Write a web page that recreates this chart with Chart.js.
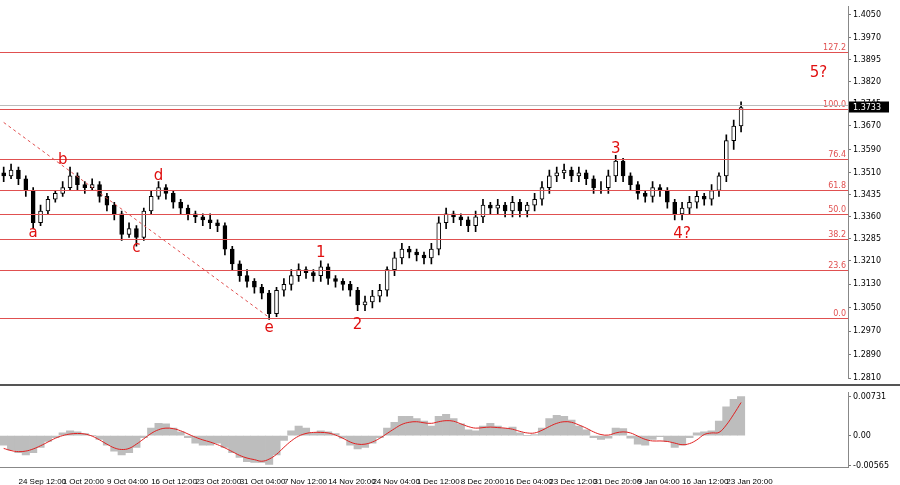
<!DOCTYPE html>
<html><head><meta charset="utf-8">
<script src="https://cdn.jsdelivr.net/npm/chart.js@4/dist/chart.umd.min.js"></script>
<style>
body{margin:0;background:#fff;width:900px;height:485px;overflow:hidden;position:relative;font-family:"DejaVu Sans",sans-serif}
canvas{position:absolute;left:0}
#sep{position:absolute;left:0;top:384px;width:900px;height:2px;background:#555}
</style></head><body>
<canvas id="main" width="900" height="385" style="top:0"></canvas>
<div id="sep"></div>
<canvas id="osc" width="900" height="99" style="top:386px"></canvas>
<script>
const opens=[1.351,1.350,1.352,1.349,1.345,1.334,1.338,1.342,1.344,1.346,1.350,1.347,1.346,1.347,1.343,1.340,1.337,1.330,1.332,1.329,1.338,1.343,1.346,1.344,1.341,1.339,1.337,1.336,1.335,1.334,1.333,1.325,1.320,1.316,1.314,1.312,1.310,1.303,1.311,1.313,1.316,1.318,1.317,1.316,1.319,1.315,1.314,1.313,1.311,1.306,1.307,1.309,1.311,1.318,1.322,1.325,1.324,1.323,1.322,1.325,1.334,1.337,1.336,1.335,1.333,1.336,1.340,1.339,1.340,1.338,1.341,1.338,1.340,1.342,1.346,1.350,1.351,1.352,1.350,1.351,1.349,1.346,1.346,1.350,1.355,1.350,1.347,1.344,1.343,1.346,1.345,1.341,1.337,1.339,1.341,1.343,1.342,1.345,1.350,1.362,1.367];
const closes=[1.350,1.352,1.349,1.345,1.334,1.338,1.342,1.344,1.346,1.350,1.347,1.346,1.347,1.343,1.340,1.337,1.330,1.332,1.329,1.338,1.343,1.346,1.344,1.341,1.339,1.337,1.336,1.335,1.334,1.333,1.325,1.320,1.316,1.314,1.312,1.310,1.303,1.311,1.313,1.316,1.318,1.317,1.316,1.319,1.315,1.314,1.313,1.311,1.306,1.307,1.309,1.311,1.318,1.322,1.325,1.324,1.323,1.322,1.325,1.334,1.337,1.336,1.335,1.333,1.336,1.340,1.339,1.340,1.338,1.341,1.338,1.340,1.342,1.346,1.350,1.351,1.352,1.350,1.351,1.349,1.346,1.346,1.350,1.355,1.350,1.347,1.344,1.343,1.346,1.345,1.341,1.337,1.339,1.341,1.343,1.342,1.345,1.350,1.362,1.367,1.3733];
const highs=[1.353,1.354,1.353,1.350,1.346,1.340,1.343,1.345,1.348,1.353,1.351,1.348,1.349,1.348,1.344,1.341,1.338,1.334,1.333,1.339,1.345,1.348,1.347,1.345,1.342,1.340,1.338,1.337,1.337,1.335,1.334,1.326,1.321,1.318,1.315,1.313,1.311,1.312,1.315,1.318,1.320,1.319,1.318,1.321,1.320,1.316,1.315,1.314,1.312,1.309,1.311,1.313,1.319,1.324,1.327,1.326,1.325,1.324,1.327,1.336,1.339,1.338,1.337,1.336,1.338,1.342,1.341,1.342,1.341,1.343,1.342,1.341,1.344,1.348,1.352,1.353,1.354,1.353,1.353,1.352,1.350,1.348,1.352,1.357,1.356,1.351,1.348,1.345,1.348,1.347,1.346,1.342,1.341,1.343,1.345,1.344,1.347,1.351,1.364,1.369,1.3752];
const lows=[1.348,1.349,1.347,1.343,1.332,1.333,1.337,1.341,1.343,1.345,1.345,1.344,1.345,1.341,1.338,1.335,1.328,1.329,1.326,1.328,1.337,1.342,1.342,1.339,1.337,1.335,1.334,1.333,1.332,1.331,1.323,1.318,1.314,1.312,1.310,1.308,1.301,1.302,1.309,1.311,1.314,1.315,1.314,1.314,1.313,1.312,1.311,1.309,1.304,1.304,1.305,1.307,1.309,1.316,1.320,1.322,1.321,1.320,1.320,1.323,1.332,1.334,1.333,1.331,1.331,1.334,1.337,1.337,1.336,1.336,1.336,1.336,1.338,1.340,1.344,1.348,1.349,1.348,1.348,1.347,1.344,1.344,1.344,1.348,1.348,1.345,1.342,1.341,1.341,1.343,1.339,1.335,1.335,1.337,1.339,1.340,1.340,1.343,1.348,1.359,1.365];
const oscHist=[-18,-27,-32,-36,-32,-22,-11,-4,5,9,7,4,0,-7,-18,-29,-36,-32,-22,-4,14,23,22,14,7,-4,-14,-18,-18,-14,-22,-32,-41,-49,-50,-50,-54,-36,-9,9,18,14,5,9,7,4,-5,-18,-25,-22,-14,-4,14,25,36,36,32,27,18,36,40,32,22,11,9,18,23,18,13,16,5,0,2,14,32,38,36,29,18,11,-4,-7,-5,14,13,-5,-16,-18,-7,-2,-11,-22,-18,-4,5,7,9,27,54,68,73];
const oscSignal=[-10,-18,-24,-28,-30,-29,-25,-19,-12,-5,0,3,4,3,-1,-8,-16,-23,-26,-24,-16,-6,4,11,14,13,9,3,-3,-8,-12,-17,-23,-30,-37,-42,-45,-48,-44,-35,-22,-10,-1,4,6,6,5,1,-5,-12,-16,-16,-12,-5,4,13,21,25,26,24,23,26,28,27,22,17,14,15,16,15,14,12,8,5,5,10,17,23,26,25,20,14,7,2,1,5,7,5,-1,-7,-10,-10,-11,-14,-17,-15,-8,2,5,6,20,40,62];
const priceTicks=[1.4050,1.3970,1.3895,1.3820,1.3745,1.3670,1.3590,1.3510,1.3435,1.3360,1.3285,1.3210,1.3130,1.3050,1.2970,1.2890,1.2810];
const fibLevels=[1.3922,1.3728,1.3557,1.3451,1.3369,1.3284,1.3178,1.3014];
const fibNames=["127.2","100.0","76.4","61.8","50.0","38.2","23.6","0.0"];
const waveLabels=[["a",4,1.3305],["b",8,1.3555],["c",18,1.3255],["d",21,1.3500],["e",36,1.2980],["1",43,1.3235],["2",48,1.2990],["3",83,1.3590],["4?",92,1.3300],["5?",110.5,1.3850]];
const timeLabels={2:"24 Sep 12:00",8:"1 Oct 20:00",14:"9 Oct 04:00",20:"16 Oct 12:00",26:"23 Oct 20:00",32:"31 Oct 04:00",38:"7 Nov 12:00",44:"14 Nov 20:00",50:"24 Nov 04:00",56:"1 Dec 12:00",62:"8 Dec 20:00",68:"16 Dec 04:00",74:"23 Dec 12:00",80:"31 Dec 20:00",86:"9 Jan 04:00",92:"16 Jan 12:00",98:"23 Jan 20:00"};
const lastPrice=1.3733;
const nSlots=115;

const cats=[];for(let i=0;i<nSlots;i++)cats.push(timeLabels[i]||"");
const F="DejaVu Sans";
const FX="Liberation Sans";
const bodies=opens.map((o,i)=>[o,closes[i]]);
const wicks=highs.map((h,i)=>[lows[i],h]);
const bodyColors=opens.map((o,i)=>closes[i]>=o?"#fff":"#000");
const diag=cats.map(()=>null);diag[0]=1.3682;diag[36]=1.3017;
const sig=oscSignal.slice(Math.max(0,oscSignal.length-oscHist.length));

const mainOverlay={id:"ov",afterDatasetsDraw(c){
 const ctx=c.ctx,y=c.scales.y,x=c.scales.x,a=c.chartArea;
 ctx.save();
 ctx.strokeStyle="#e05050";ctx.lineWidth=1;
 fibLevels.forEach((v,i)=>{const py=Math.round(y.getPixelForValue(v))+0.5;
  ctx.beginPath();ctx.moveTo(0,py);ctx.lineTo(a.right,py);ctx.stroke();
  ctx.fillStyle="#e05050";ctx.font="8px "+F;ctx.textAlign="right";ctx.textBaseline="bottom";
  ctx.fillText(fibNames[i],a.right-2,py-1);});
 const lp=Math.round(y.getPixelForValue(lastPrice))+0.5;
 ctx.strokeStyle="#bbb";ctx.beginPath();ctx.moveTo(0,lp-2);ctx.lineTo(a.right,lp-2);ctx.stroke();
 ctx.fillStyle="#000";ctx.fillRect(a.right+1,lp-6,40,11);
 ctx.fillStyle="#fff";ctx.font="8px "+F;ctx.textAlign="left";ctx.textBaseline="middle";ctx.fillText("1.3733",a.right+5,lp);
 ctx.fillStyle="#e01010";ctx.font="15px "+F;ctx.textAlign="center";ctx.textBaseline="middle";
 waveLabels.forEach(w=>{ctx.fillText(w[0],x.getPixelForValue(0)+(x.getPixelForValue(1)-x.getPixelForValue(0))*w[1],y.getPixelForValue(w[2]));});
 ctx.restore();}};

new Chart(document.getElementById("main"),{
 type:"bar",
 data:{labels:cats,datasets:[
  {data:wicks,backgroundColor:"#000",barThickness:1,grouped:false,order:2},
  {data:bodies,backgroundColor:bodyColors,borderColor:"#000",borderWidth:1,borderSkipped:false,barThickness:4,grouped:false,order:1},
  {type:"line",data:diag,spanGaps:true,borderColor:"#e05050",borderWidth:1,borderDash:[3,3],pointRadius:0,order:0}
 ]},
 options:{responsive:false,animation:false,devicePixelRatio:1,
  layout:{padding:{left:0,right:0,top:0,bottom:0}},
  plugins:{legend:{display:false},tooltip:{enabled:false}},
  scales:{
   x:{display:false,offset:true},
   y:{position:"right",min:1.2810,max:1.40763,
    afterBuildTicks(s){s.ticks=priceTicks.map(v=>({value:v}));},
    afterFit(s){s.width=52;},
    grid:{drawOnChartArea:false,tickLength:3,color:"#777"},
    border:{color:"#888"},
    ticks:{color:"#000",font:{family:F,size:8},padding:2,callback:v=>v.toFixed(4)}}
  }},
 plugins:[mainOverlay]});

const zeroLine={id:"z",beforeDatasetsDraw(c){const ctx=c.ctx,a=c.chartArea;ctx.save();ctx.strokeStyle="#888";ctx.lineWidth=1;
 ctx.beginPath();ctx.moveTo(0,a.bottom+0.5);ctx.lineTo(a.right,a.bottom+0.5);ctx.stroke();ctx.restore();}};
new Chart(document.getElementById("osc"),{
 type:"bar",
 data:{labels:cats,datasets:[
  {type:"line",data:sig,borderColor:"#e02020",borderWidth:1,pointRadius:0,tension:0.4,order:0},
  {data:oscHist,backgroundColor:"#bdbdbd",barPercentage:1,categoryPercentage:1,order:1}
 ]},
 options:{responsive:false,animation:false,devicePixelRatio:1,
  layout:{padding:{top:3,left:0,right:0,bottom:0}},
  plugins:{legend:{display:false},tooltip:{enabled:false}},
  scales:{
   x:{offset:true,afterFit(s){s.height=18;},grid:{display:false},border:{display:false},
     ticks:{autoSkip:false,maxRotation:0,align:"start",color:"#000",font:{family:FX,size:8},padding:2,
      callback(v,i){return cats[i];}}},
   y:{position:"right",min:-58.8,max:80.2,
    afterBuildTicks(s){s.ticks=[{value:73.1},{value:0},{value:-56.5}];},
    afterFit(s){s.width=52;},
    grid:{drawOnChartArea:false,tickLength:3,color:"#777"},border:{color:"#888"},
    ticks:{color:"#000",font:{family:F,size:8},padding:2,callback:v=>v===0?"0.00":(v>0?"0.00731":"-0.00565")}}
  }},
 plugins:[zeroLine]});
</script></body></html>
